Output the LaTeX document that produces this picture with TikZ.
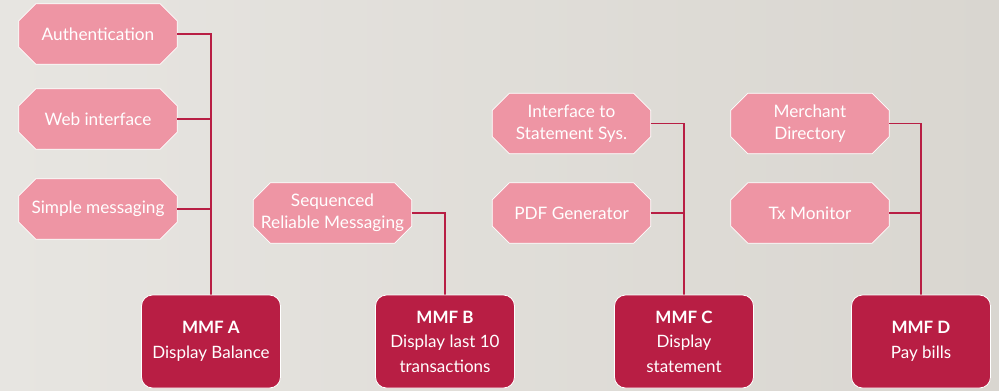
\documentclass[tikz,border=0pt]{standalone}
\usepackage{fontspec}
\setmainfont{Lato}
\usetikzlibrary{backgrounds}
\definecolor{subfill}{HTML}{EE95A4}
\definecolor{mmf}{HTML}{B81E44}
\definecolor{bgl}{HTML}{E7E5E1}
\definecolor{bgr}{HTML}{D9D6D0}
\begin{document}
\begin{tikzpicture}[x=1pt,y=-1pt,
  sub/.style={rectangle, minimum width=158pt, minimum height=60pt, inner sep=0pt, align=center, text=white, font=\fontsize{17.2}{22}\selectfont},
  mmfbox/.style={rectangle, rounded corners=11pt, fill=mmf, draw=white, line width=0.8pt, minimum width=139pt, minimum height=93pt, inner sep=0pt, align=center, text=white, font=\fontsize{17}{24.5}\selectfont},
  octo/.style={fill=subfill, draw=white, line width=0.8pt},
  link/.style={draw=mmf, line width=1.4pt}]
\useasboundingbox (0,0) rectangle (999,391);
% sub-function nodes
\node[sub] (auth) at (98,34) {Authentication};
\node[sub] (web) at (98,119) {Web interface};
\node[sub] (simple) at (98,209) {Simple messaging};
\node[sub] (seq) at (332.5,213) {Sequenced\\Reliable Messaging};
\node[sub] (iface) at (571.5,123.5) {Interface to\\Statement Sys.};
\node[sub] (pdf) at (571.5,213) {PDF Generator};
\node[sub] (merch) at (810,123.5) {Merchant\\Directory};
\node[sub] (tx) at (810,213) {Tx Monitor};
% MMF nodes
\node[mmfbox] (mmfa) at (211,341.5) {\textbf{MMF A}\\Display Balance};
\node[mmfbox] (mmfb) at (445,341.5) {\textbf{MMF B}\\Display last 10\\transactions};
\node[mmfbox] (mmfc) at (684,341.5) {\textbf{MMF C}\\Display\\statement};
\node[mmfbox] (mmfd) at (921,341.5) {\textbf{MMF D}\\Pay bills};
\begin{scope}[on background layer]
  \shade[left color=bgl, right color=bgr] (0,0) rectangle (999,391);
  \foreach \n in {auth,web,simple,seq,iface,pdf,merch,tx}{
    \draw[octo] ([xshift=17pt]\n.north west) -- ([xshift=-17pt]\n.north east)
      -- ([yshift=-17pt]\n.north east) -- ([yshift=17pt]\n.south east)
      -- ([xshift=-17pt]\n.south east) -- ([xshift=17pt]\n.south west)
      -- ([yshift=17pt]\n.south west) -- ([yshift=-17pt]\n.north west) -- cycle;
  }
  % connectors
  \draw[link] (auth.east) -| (mmfa.north);
  \draw[link] (web.east) -- (web.east -| mmfa.north);
  \draw[link] (simple.east) -- (simple.east -| mmfa.north);
  \draw[link] (seq.east) -| (mmfb.north);
  \draw[link] (iface.east) -| (mmfc.north);
  \draw[link] (pdf.east) -- (pdf.east -| mmfc.north);
  \draw[link] (merch.east) -| (mmfd.north);
  \draw[link] (tx.east) -- (tx.east -| mmfd.north);
\end{scope}
\end{tikzpicture}
\end{document}
